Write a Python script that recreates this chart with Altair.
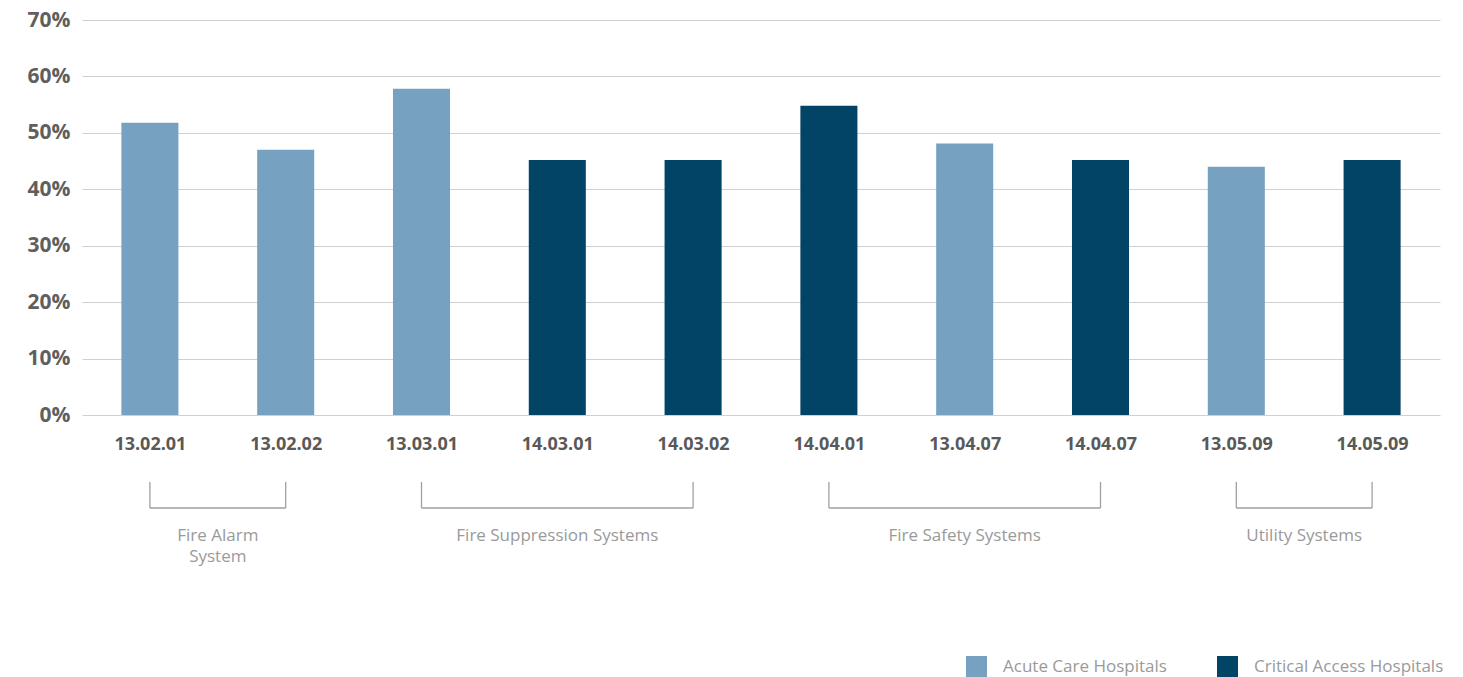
import altair as alt
import pandas as pd

# ---- data ----
codes = ["13.02.01", "13.02.02", "13.03.01", "14.03.01", "14.03.02",
         "14.04.01", "13.04.07", "14.04.07", "13.05.09", "14.05.09"]
values = [51.8, 47.0, 57.8, 45.2, 45.2, 54.8, 48.1, 45.2, 44.0, 45.2]
series = ["Acute Care Hospitals", "Acute Care Hospitals", "Acute Care Hospitals",
          "Critical Access Hospitals", "Critical Access Hospitals",
          "Critical Access Hospitals", "Acute Care Hospitals",
          "Critical Access Hospitals", "Acute Care Hospitals",
          "Critical Access Hospitals"]

group_names = [["Fire Alarm", "System"], ["Fire Suppression Systems"],
               ["Fire Safety Systems"], ["Utility Systems"]]
group_first = ["13.02.01", "13.03.01", "14.04.01", "13.05.09"]
group_last = ["13.02.02", "14.03.02", "14.04.07", "14.05.09"]

series_names = ["Acute Care Hospitals", "Critical Access Hospitals"]
series_colors = ["#76A1C0", "#024465"]

# ---- tables ----
half = 0.21
bars = pd.DataFrame({
    "code": codes,
    "value": values,
    "series": series,
    "idx": list(range(len(codes))),
})
bars["lo"] = bars["idx"] - half
bars["hi"] = bars["idx"] + half

groups = pd.DataFrame({
    "gid": list(range(len(group_first))),
    "s": [codes.index(c) for c in group_first],
    "e": [codes.index(c) for c in group_last],
})
groups["mid"] = (groups["s"] + groups["e"]) / 2
groups["label"] = group_names

ends = pd.concat([
    groups[["gid", "s"]].rename(columns={"s": "pos"}),
    groups[["gid", "e"]].rename(columns={"e": "pos"}),
])

FONT = "Open Sans"
label_expr = "[" + ",".join("'%s'" % c for c in codes) + "][datum.value]"

xscale = alt.Scale(domain=[-0.5, len(codes) - 0.5], nice=False, zero=False,
                   padding=0)

bar_layer = alt.Chart(bars).mark_bar(orient="vertical").encode(
    x=alt.X("lo:Q", scale=xscale,
            axis=alt.Axis(values=list(range(len(codes))), labelExpr=label_expr,
                          grid=False, ticks=False, domain=False, title=None,
                          labelFontSize=18, labelFontWeight="bold",
                          labelColor="#595959", labelPadding=20, labelFont=FONT)),
    x2="hi:Q",
    y=alt.Y("value:Q", scale=alt.Scale(domain=[0, 70], nice=False, padding=0),
            axis=alt.Axis(values=list(range(0, 71, 10)),
                          labelExpr="datum.value + '%'",
                          grid=True, gridColor="#d0d0d0", gridWidth=1.2,
                          ticks=False, domain=False, title=None,
                          labelFontSize=21, labelFontWeight="bold",
                          labelColor="#5f5f5f", labelPadding=12, labelFont=FONT)),
    y2=alt.datum(0),
    color=alt.Color("series:N",
                    scale=alt.Scale(domain=series_names, range=series_colors),
                    legend=alt.Legend(title=None, orient="none",
                                      legendX=884, legendY=636,
                                      direction="horizontal",
                                      symbolType="square", symbolSize=441,
                                      symbolStrokeWidth=0,
                                      labelFontSize=17, labelColor="#9a9a9a",
                                      labelFont=FONT, labelOffset=16,
                                      columnPadding=50, labelLimit=300)),
)

hline = alt.Chart(groups).mark_rule(color="#a0a0a0", strokeWidth=1.3).encode(
    x=alt.X("s:Q", scale=xscale),
    x2="e:Q",
    y=alt.value(488),
)

vlines = alt.Chart(ends).mark_rule(color="#a0a0a0", strokeWidth=1.3).encode(
    x=alt.X("pos:Q", scale=xscale),
    y=alt.value(462),
    y2=alt.value(488),
)

glabels = alt.Chart(groups).mark_text(
    font=FONT, fontSize=17, color="#9a9a9a", baseline="top",
    align="center", lineHeight=21,
).encode(
    x=alt.X("mid:Q", scale=xscale),
    y=alt.value(508),
    text="label",
)

chart = alt.layer(bar_layer, hline, vlines, glabels).properties(
    width=1358, height=395,
    padding={"left": 82, "top": 20, "right": 23, "bottom": 262},
    autosize=alt.AutoSizeParams(type="none"),
).configure(font=FONT, view=alt.ViewConfig(stroke=None))

chart.save("out.html", embed_options={"renderer": "svg", "actions": False})
